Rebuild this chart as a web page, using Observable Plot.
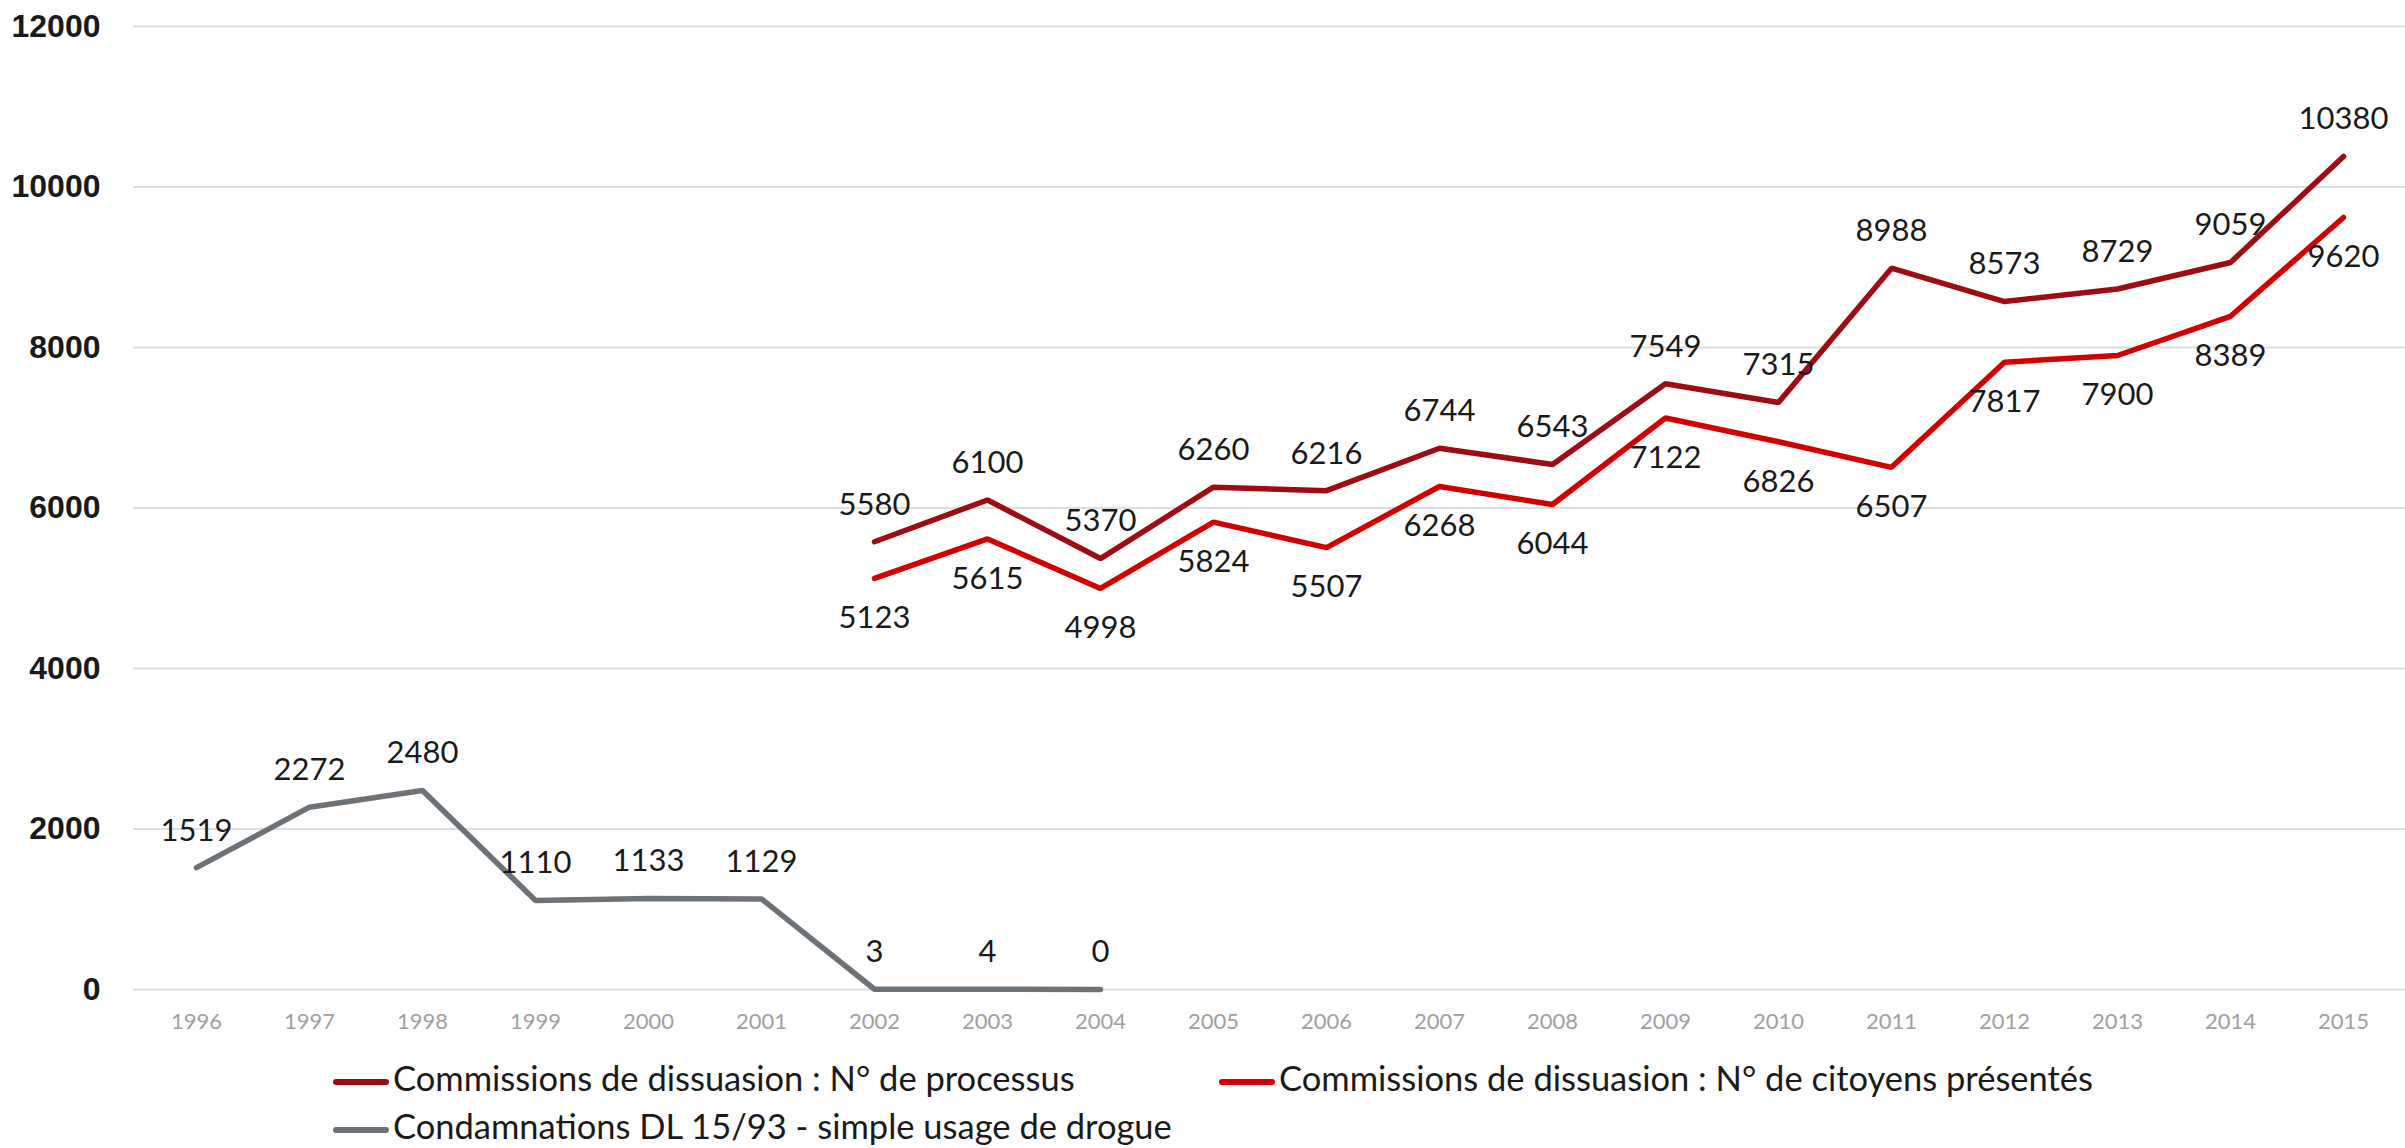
<!DOCTYPE html>
<html>
<head>
<meta charset="utf-8">
<script src="https://cdn.jsdelivr.net/npm/d3@7"></script>
<script src="https://cdn.jsdelivr.net/npm/@observablehq/plot@0.6"></script>
<style>
  html, body { margin: 0; padding: 0; background: #fff; overflow: hidden; }
  #chart svg { display: block; }
  #legend {
    display: grid;
    grid-template-columns: 886px auto;
    padding-left: 333px;
    margin-top: 14px;
    font-family: Lato, "Open Sans", sans-serif;
    font-size: 34.5px;
    line-height: 48px;
    color: #1a1a1a;
  }
  .item { display: flex; align-items: center; height: 48px; white-space: nowrap; }
  .sw { width: 56px; height: 6px; border-radius: 3px; margin-right: 4px; flex: none; position: relative; top: 4px; }
</style>
</head>
<body>
<div id="chart"></div>
<div id="legend"></div>
<script>
// ---- data ----
const years = [1996, 1997, 1998, 1999, 2000, 2001, 2002, 2003, 2004, 2005, 2006, 2007, 2008, 2009, 2010, 2011, 2012, 2013, 2014, 2015];
const yTicks = [0, 2000, 4000, 6000, 8000, 10000, 12000];

const seriesNames = [
  "Commissions de dissuasion : N° de processus",
  "Commissions de dissuasion : N° de citoyens présentés",
  "Condamnations DL 15/93 - simple usage de drogue"
];
const seriesColors = ["#9E0B13", "#D20000", "#6D7276"];

const procYears = [2002, 2003, 2004, 2005, 2006, 2007, 2008, 2009, 2010, 2011, 2012, 2013, 2014, 2015];
const procValues = [5580, 6100, 5370, 6260, 6216, 6744, 6543, 7549, 7315, 8988, 8573, 8729, 9059, 10380];

const citYears = [2002, 2003, 2004, 2005, 2006, 2007, 2008, 2009, 2010, 2011, 2012, 2013, 2014, 2015];
const citValues = [5123, 5615, 4998, 5824, 5507, 6268, 6044, 7122, 6826, 6507, 7817, 7900, 8389, 9620];

const condYears = [1996, 1997, 1998, 1999, 2000, 2001, 2002, 2003, 2004];
const condValues = [1519, 2272, 2480, 1110, 1133, 1129, 3, 4, 0];

// ---- build tables ----
const proc = procYears.map((y, i) => ({year: y, value: procValues[i], s: seriesNames[0]}));
const cit = citYears.map((y, i) => ({year: y, value: citValues[i], s: seriesNames[1]}));
const cond = condYears.map((y, i) => ({year: y, value: condValues[i], s: seriesNames[2]}));

const labelFont = "Lato, 'Open Sans', sans-serif";

const chart = Plot.plot({
  width: 2405,
  height: 1040,
  marginLeft: 133,
  marginRight: 0,
  marginTop: 26,
  marginBottom: 51,
  style: {background: "#fff", overflow: "visible", fontFamily: labelFont},
  x: {type: "point", domain: years, padding: 0.5},
  y: {domain: [0, 12000]},
  marks: [
    Plot.ruleY(yTicks, {stroke: "#dedede", strokeWidth: 2}),
    Plot.axisY({ticks: yTicks, tickSize: 0, tickPadding: 33, fontSize: 32, fontWeight: "bold",
      fontFamily: "'Liberation Sans', Arial, sans-serif", fill: "#1a1a1a", label: null,
      tickFormat: d => String(d)}),
    Plot.axisX({tickSize: 0, tickPadding: 24, fontSize: 22, fill: "#a0a0a0", tickFormat: d => String(d), label: null}),
    Plot.line(cond, {x: "year", y: "value", stroke: seriesColors[2], strokeWidth: 5.5, strokeLinecap: "round", strokeLinejoin: "miter"}),
    Plot.line(cit, {x: "year", y: "value", stroke: seriesColors[1], strokeWidth: 5.5, strokeLinecap: "round", strokeLinejoin: "miter"}),
    Plot.line(proc, {x: "year", y: "value", stroke: seriesColors[0], strokeWidth: 5.5, strokeLinecap: "round", strokeLinejoin: "miter"}),
    Plot.text(proc, {x: "year", y: "value", text: d => String(d.value), dy: -37, fontSize: 31, fill: "#1a1a1a"}),
    Plot.text(cit, {x: "year", y: "value", text: d => String(d.value), dy: 40, fontSize: 31, fill: "#1a1a1a"}),
    Plot.text(cond, {x: "year", y: "value", text: d => String(d.value), dy: -37, fontSize: 31, fill: "#1a1a1a"})
  ]
});
document.getElementById("chart").appendChild(chart);

// ---- legend ----
const legend = document.getElementById("legend");
seriesNames.forEach((name, i) => {
  const item = document.createElement("div");
  item.className = "item";
  const sw = document.createElement("span");
  sw.className = "sw";
  sw.style.background = seriesColors[i];
  const t = document.createElement("span");
  t.textContent = name;
  item.appendChild(sw);
  item.appendChild(t);
  legend.appendChild(item);
});
</script>
</body>
</html>
